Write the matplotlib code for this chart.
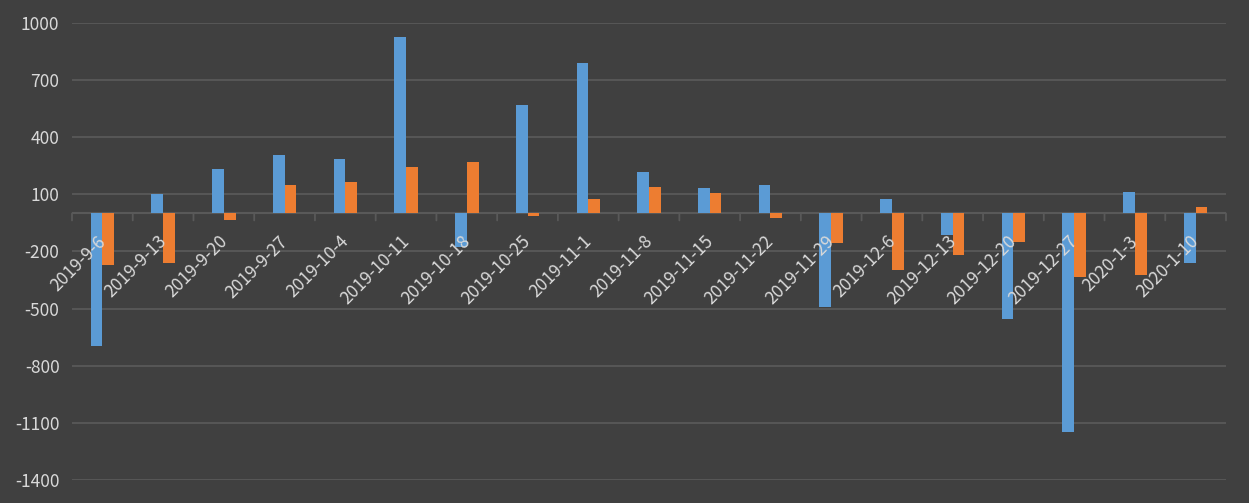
import numpy as np
import matplotlib.pyplot as plt

dates = ["2019-9-6", "2019-9-13", "2019-9-20", "2019-9-27", "2019-10-4",
         "2019-10-11", "2019-10-18", "2019-10-25", "2019-11-1", "2019-11-8",
         "2019-11-15", "2019-11-22", "2019-11-29", "2019-12-6", "2019-12-13",
         "2019-12-20", "2019-12-27", "2020-1-3", "2020-1-10"]
blue_vals = [-696, 104, 235, 309, 288, 924, -175, 567, 788, 219,
             135, 151, -491, 77, -112, -554, -1149, 114, -260]
orange_vals = [-270, -260, -33, 151, 167, 246, 272, -12, 77, 140,
               109, -23, -154, -296, -217, -149, -333, -323, 35]
yticks = [1000, 700, 400, 100, -200, -500, -800, -1100, -1400]

bg = "#404040"
grid_c = "#595959"
text_c = "#d9d9d9"

plt.rcParams['font.family'] = ['Noto Sans CJK SC', 'DejaVu Sans']

fig = plt.figure(figsize=(12.49, 5.03), dpi=100)
fig.patch.set_facecolor(bg)
ax = fig.add_axes([72 / 1249, 23 / 503, (1226 - 72) / 1249, 457 / 503])
ax.set_facecolor(bg)

n = len(dates)
x = np.arange(n)
w = 0.193
ax.bar(x - w / 2, blue_vals, w, color="#5B9BD5", zorder=3)
ax.bar(x + w / 2, orange_vals, w, color="#ED7D31", zorder=3)

ax.set_xlim(-0.5, n - 0.5)
ax.set_ylim(-1400, 1000)
ax.set_yticks(yticks)
ax.set_yticklabels([str(v) for v in yticks], color=text_c, fontsize=12.5)
ax.tick_params(axis='y', length=0, pad=9)
ax.set_xticks([])
ax.yaxis.grid(True, color=grid_c, lw=1.3, zorder=0)
for s in ax.spines.values():
    s.set_visible(False)

# zero axis line and category ticks
ax.axhline(0, color=grid_c, lw=1.5, zorder=2)
for b in np.arange(-0.5, n, 1.0):
    ax.annotate("", xy=(b, 0), xytext=(0, -7), textcoords="offset pixels",
                arrowprops=dict(arrowstyle="-", color=grid_c, lw=1.3,
                                shrinkA=0, shrinkB=0))

for i, lab in enumerate(dates):
    ax.annotate(lab, xy=(i, 0), xytext=(7, -19), textcoords="offset pixels",
                rotation=45, ha="right", va="top", color=text_c,
                fontsize=12.5, zorder=5)

fig.savefig("out.png", dpi=100, facecolor=bg)
